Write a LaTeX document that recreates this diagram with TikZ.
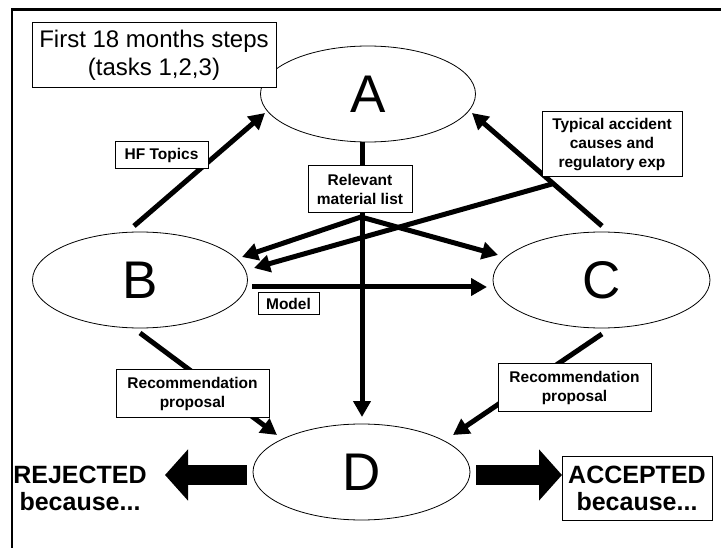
\documentclass[tikz,border=0pt]{standalone}
\usepackage{fontspec}
\setmainfont{Liberation Sans}
\usetikzlibrary{positioning,arrows.meta,shapes.geometric}
\tikzset{
  stage/.style={ellipse, draw, line width=0.8pt, minimum width=215pt, minimum height=96pt,
    inner sep=0pt, font=\fontsize{53}{53}\selectfont},
  flow/.style={line width=5pt, -{Triangle[length=16pt,width=17pt]}},
  tag/.style={draw, fill=white, line width=1pt, align=center, inner sep=0pt,
    font=\bfseries\fontsize{15.5}{19}\selectfont},
  verdict/.style={line width=20pt, -{Triangle[length=23pt,width=50pt]}}
}

\begin{document}
\begin{tikzpicture}[x=1pt, y=-1pt]
    \useasboundingbox (0,0) rectangle (721,548);
    \draw[line width=2.5pt] (12,548) -- (12,9.5) -- (721,9.5);

    % the four stages
    \node[stage] (A) at (368,94) {A};
    \node[stage] (B) at (140,280) {B};
    \node[stage, minimum width=217pt] (C) at (601.5,280) {C};
    \node[stage, minimum width=217pt] (D) at (361.5,472) {D};

    % loose ends of the connectors
    \coordinate (bA) at (134,226);
    \coordinate (aB) at (265,113);
    \coordinate (cA) at (602,226);
    \coordinate (aC) at (472,113);
    \coordinate (aD) at (362,142);
    \coordinate (dA) at (362,417);
    \coordinate (fork) at (361,217);
    \coordinate (bR) at (242,257);
    \coordinate (cR) at (498,255);
    \coordinate (tS) at (552,184);
    \coordinate (bT) at (254,268);
    \coordinate (bM) at (252,287);
    \coordinate (cM) at (487,287);
    \coordinate (bD) at (140,333);
    \coordinate (dB) at (277,435);
    \coordinate (cD) at (602,334);
    \coordinate (dC) at (453,435);
    \coordinate (dL) at (247,475);
    \coordinate (rL) at (165,475);
    \coordinate (dR) at (476,475);
    \coordinate (aR) at (562,475);

    \draw[flow] (bA) -- (aB);
    \draw[flow] (cA) -- (aC);
    \draw[flow] (aD) -- (dA);
    \draw[flow] (fork) -- (bR);
    \draw[flow] (fork) -- (cR);
    \draw[flow] (tS) -- (bT);
    \draw[flow] (bM) -- (cM);
    \draw[flow] (bD) -- (dB);
    \draw[flow] (cD) -- (dC);
    \draw[verdict] (dL) -- (rL);
    \draw[verdict] (dR) -- (aR);

    % labels on top
    \node[tag, font=\fontsize{24}{28}\selectfont, minimum width=244pt, minimum height=65pt]
      (steps) at (154,55.5) {First 18 months steps\\(tasks 1,2,3)};
    \node[tag, minimum width=93pt, minimum height=27pt] (hf) at (161.5,155.5) {HF Topics};
    \node[tag, minimum width=104pt, minimum height=47pt] (rel) at (360,189.5) {Relevant\\material list};
    \node[tag, minimum width=140pt, minimum height=65pt] (typ) at (612,144.5)
      {Typical accident\\causes and\\regulatory exp};
    \node[tag, minimum width=61pt, minimum height=22pt] (model) at (288.5,303.5) {Model};
    \node[tag, minimum width=153pt, minimum height=47pt] (recB) at (192.5,393.5)
      {Recommendation\\proposal};
    \node[tag, minimum width=153pt, minimum height=47pt] (recC) at (574.5,387.5)
      {Recommendation\\proposal};
    \node[align=center, inner sep=0pt, font=\bfseries\fontsize{25}{27}\selectfont]
      (rej) at (80,488) {REJECTED\\because...};
    \node[tag, font=\bfseries\fontsize{25}{27}\selectfont, minimum width=150pt, minimum height=64pt]
      (acc) at (637,488) {ACCEPTED\\because...};
\end{tikzpicture}
\end{document}
